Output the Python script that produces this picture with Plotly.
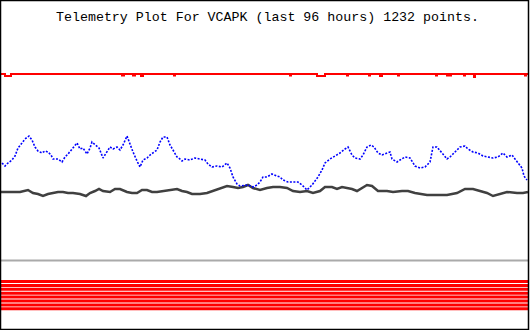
import plotly.graph_objects as go

# ---- data (x in sample-position units across 96 h window, y in raw telemetry units; axis reversed) ----
blue_x = [2, 5, 8, 12, 15, 18, 22, 25, 29, 32, 35, 38, 42, 45, 48, 51, 53, 58, 62, 65, 68, 72, 75, 77,
          80, 83, 87, 90, 92, 95, 99, 103, 107, 110, 113, 117, 120, 123, 127, 130, 133, 137, 140, 143,
          147, 150, 153, 157, 160, 163, 167, 170, 173, 177, 180, 182, 185, 190, 195, 200, 205, 208,
          212, 217, 222, 227, 230, 233, 237, 240, 245, 248, 253, 257, 260, 263, 267, 272, 277, 280,
          283, 288, 293, 298, 302, 307, 312, 315, 318, 322, 325, 330, 335, 340, 345, 348, 352, 355,
          360, 363, 367, 371, 374, 378, 382, 387, 390, 392, 397, 400, 405, 410, 415, 420, 425, 430,
          433, 437, 442, 447, 450, 455, 460, 465, 468, 473, 478, 483, 488, 493, 498, 503, 507, 512,
          515, 518, 522, 524, 527]
blue_y = [163, 166, 163, 160, 156, 148, 143, 139, 136, 140, 147, 151, 153, 151, 152, 155, 159, 159,
          162, 157, 154, 149, 145, 143, 149, 148, 154, 148, 142, 145, 148, 158, 152, 147, 149, 147,
          150, 145, 136, 145, 152, 161, 167, 160, 158, 155, 153, 150, 142, 137, 137, 145, 150, 157,
          159, 161, 159, 160, 158, 159, 160, 164, 167, 166, 167, 163, 168, 177, 184, 186, 185, 185,
          187, 185, 182, 177, 177, 174, 176, 177, 180, 182, 182, 182, 185, 190, 185, 181, 177, 170,
          163, 159, 156, 153, 149, 147, 155, 158, 159, 155, 147, 145, 147, 153, 155, 153, 152, 159,
          162, 160, 157, 158, 166, 168, 167, 162, 147, 147, 153, 159, 157, 152, 147, 146, 149, 152,
          153, 156, 157, 158, 157, 153, 157, 155, 159, 163, 168, 176, 180]

black_x = [1, 10, 20, 28, 33, 38, 43, 48, 53, 58, 63, 68, 73, 80, 86, 90, 95, 99, 103, 110, 115, 120,
           127, 132, 137, 142, 147, 152, 157, 163, 170, 177, 182, 187, 192, 200, 207, 213, 220, 227,
           233, 238, 243, 248, 253, 260, 267, 273, 280, 287, 293, 300, 307, 313, 320, 325, 332, 337,
           342, 347, 352, 357, 362, 367, 372, 378, 387, 393, 402, 408, 415, 422, 427, 437, 447, 457,
           465, 473, 480, 487, 493, 500, 507, 517, 523, 528]
black_y = [192, 192, 192, 190, 193, 194, 196, 194, 193, 192, 192, 193, 193, 194, 196, 193, 191, 189,
           191, 192, 189, 189, 192, 193, 193, 190, 190, 192, 192, 191, 190, 189, 191, 192, 194, 194,
           193, 191, 189, 186, 187, 188, 187, 185, 188, 190, 188, 187, 187, 188, 191, 192, 191, 193,
           191, 187, 187, 189, 187, 188, 189, 191, 188, 185, 186, 191, 191, 192, 191, 191, 193, 194,
           195, 195, 195, 193, 189, 189, 191, 193, 196, 194, 192, 193, 193, 192]

red_x = [1, 5, 11, 122, 124, 133, 135, 141, 143, 174, 175, 290, 291, 317, 325, 347, 348, 369, 370,
         380, 382, 398, 399, 436, 437, 447, 449, 450, 451, 464, 465, 474, 475, 525, 526, 528]
red_y = [74, 76, 74, 75.5, 74, 75.5, 74, 76, 74, 75.5, 74, 75.5, 74, 76, 74, 75.5, 74, 75.5, 74,
         76, 74, 75.5, 74, 75.5, 74, 75.5, 74, 75.5, 74, 75.5, 74, 77, 74, 75.5, 74, 74]

ref_level = 260.5
status_levels = [281.5, 285.4, 289.3, 293.2, 297.1, 301.0, 304.9, 308.8]
span = [1, 528]

title_text = "Telemetry Plot For VCAPK (last 96 hours) 1232 points."

fig = go.Figure()

fig.add_trace(go.Scatter(x=red_x, y=red_y, mode="lines", line=dict(color="#ff0000", width=2, shape="hv"),
                         hoverinfo="skip"))
fig.add_trace(go.Scatter(x=black_x, y=black_y, mode="lines", line=dict(color="#404040", width=2.5),
                         hoverinfo="skip"))
fig.add_trace(go.Scatter(x=blue_x, y=blue_y, mode="lines", line=dict(color="#0000ff", width=1.6, dash="2px,1.5px"),
                         hoverinfo="skip"))
fig.add_trace(go.Scatter(x=span, y=[ref_level, ref_level], mode="lines",
                         line=dict(color="#aaaaaa", width=2), hoverinfo="skip"))
for lv in status_levels:
    fig.add_trace(go.Scatter(x=span, y=[lv, lv], mode="lines", line=dict(color="#ff0000", width=3),
                             hoverinfo="skip"))

fig.add_annotation(text=title_text, xref="paper", yref="y", x=0.505, y=17, showarrow=False,
                   xanchor="center", yanchor="middle",
                   font=dict(family="Liberation Mono, DejaVu Sans Mono, monospace", size=13.3, color="black"))

fig.add_shape(type="rect", xref="x", yref="y", x0=0.5, x1=528.5, y0=0.5, y1=329.5,
              line=dict(color="black", width=1.5))

fig.update_layout(
    width=530, height=330, margin=dict(l=0, r=0, t=0, b=0),
    paper_bgcolor="white", plot_bgcolor="white", showlegend=False,
    xaxis=dict(range=[0, 530], visible=False, fixedrange=True),
    yaxis=dict(range=[330, 0], visible=False, fixedrange=True),
)

fig.write_html("out.html")
